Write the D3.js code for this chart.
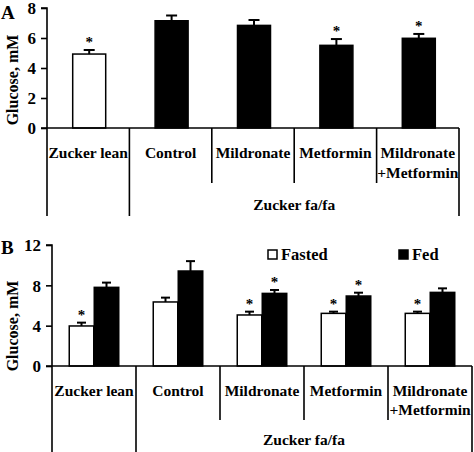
<!DOCTYPE html>
<html><head><meta charset="utf-8">
<script src="https://cdn.jsdelivr.net/npm/d3@7"></script>
<style>
html,body{margin:0;padding:0;background:#fff;}
svg text{font-family:"Liberation Serif","Times New Roman",serif;font-weight:bold;fill:#000;}
</style></head>
<body><svg id="c" width="474" height="452"></svg>
<script>
// Data
const categories = ["Zucker lean","Control","Mildronate","Metformin","Mildronate\n+Metformin"];
const groupLabel = "Zucker fa/fa";
// Panel A
const aValues = [4.93, 7.15, 6.84, 5.51, 5.98];
const aErrors = [0.27, 0.35, 0.36, 0.42, 0.29];
const aSig = [true, false, false, true, true];
const aFills = ["#fff", "#000", "#000", "#000", "#000"];
const aTicks = [0, 2, 4, 6, 8];
// Panel B
const series = ["Fasted","Fed"];
const bFasted = [3.97, 6.35, 5.06, 5.22, 5.22];
const bFastedErr = [0.33, 0.43, 0.33, 0.17, 0.17];
const bFed = [7.8, 9.42, 7.2, 6.94, 7.3];
const bFedErr = [0.47, 0.98, 0.34, 0.33, 0.4];
const bFastedSig = [true, false, true, true, true];
const bFedSig = [false, false, true, true, false];
const bTicks = [0, 4, 8, 12];

const svg = d3.select("#c");

function panel(cfg) {
  const g = svg.append("g");
  const y = d3.scaleLinear().domain(cfg.domain).range([cfg.y0, cfg.y1]);
  const x = d3.scaleBand().domain(categories).range([cfg.x0, cfg.x1]).paddingInner(0).paddingOuter(0);

  // bars
  cfg.series.forEach((s) => {
    s.values.forEach((v, i) => {
      const cx = x(categories[i]) + x.bandwidth()/2 + s.offset;
      const top = y(v);
      g.append("rect").attr("x", cx - cfg.barW/2).attr("y", top)
        .attr("width", cfg.barW).attr("height", y(0) - top)
        .attr("fill", s.fills[i]).attr("stroke", "#000").attr("stroke-width", 1.5);
      const et = y(v + s.errs[i]);
      g.append("line").attr("x1", cx).attr("x2", cx).attr("y1", top).attr("y2", et)
        .attr("stroke", "#000").attr("stroke-width", 2);
      g.append("line").attr("x1", cx - cfg.capW/2).attr("x2", cx + cfg.capW/2).attr("y1", et).attr("y2", et)
        .attr("stroke", "#000").attr("stroke-width", 2);
      if (s.sig[i]) {
        g.append("text").attr("x", cx).attr("y", et - 3).attr("text-anchor", "middle")
          .attr("fill", "#000").style("font-size", "15px").text("*");
      }
    });
  });

  // y axis
  const ax = d3.axisLeft(y).tickValues(cfg.ticks).tickSize(6).tickPadding(5).tickFormat(d3.format("d"));
  const ag = g.append("g").attr("transform", `translate(${cfg.x0},0)`).call(ax)
    .attr("font-family", null).attr("font-size", null);
  ag.select(".domain").attr("stroke", "#000").attr("stroke-width", 1.6).attr("d", `M-6,${cfg.y1}H0V${cfg.y0}`);
  ag.selectAll(".tick line").attr("stroke", "#000").attr("stroke-width", 1.6);
  ag.selectAll(".tick text").style("font-size", "17px").attr("fill", "#000").attr("dy", "0.35em");

  // x baseline
  g.append("line").attr("x1", cfg.x0 - 6).attr("x2", cfg.x1).attr("y1", y(0)).attr("y2", y(0))
    .attr("stroke", "#000").attr("stroke-width", 1.6);

  // separators
  categories.forEach((c, i) => {
    const sx = x(c);
    const full = i <= 1;
    g.append("line").attr("x1", sx).attr("x2", sx).attr("y1", y(0)).attr("y2", full ? cfg.fullBottom : cfg.shortBottom)
      .attr("stroke", "#000").attr("stroke-width", 1.6);
  });
  g.append("line").attr("x1", cfg.x1).attr("x2", cfg.x1).attr("y1", y(0)).attr("y2", cfg.fullBottom)
    .attr("stroke", "#000").attr("stroke-width", 1.6);

  // category labels
  categories.forEach((c) => {
    const lines = c.split("\n");
    const cx = x(c) + x.bandwidth()/2;
    const t = g.append("text").attr("x", cx).attr("y", cfg.labY)
      .attr("text-anchor", "middle").style("font-size", "15.5px");
    lines.forEach((l, li) => {
      t.append("tspan").attr("x", cx).attr("dy", li === 0 ? 0 : cfg.lineH).text(l);
    });
  });
  g.append("text").attr("x", (x(categories[1]) + cfg.x1)/2).attr("y", cfg.groupY)
    .attr("text-anchor", "middle").style("font-size", "15.5px").text(groupLabel);

  // y label
  g.append("text").attr("transform", `translate(${cfg.ylabX},${cfg.ylabY}) rotate(-90)`)
    .attr("text-anchor", "middle").style("font-size", "16px").text("Glucose, mM");
  // panel letter
  g.append("text").attr("x", 1).attr("y", cfg.letterY).style("font-size", "19px").text(cfg.letter);
  return {x, y, g};
}

panel({
  domain: [0, 8], y0: 128, y1: 8, x0: 47, x1: 459, barW: 33, capW: 11,
  series: [{values: aValues, errs: aErrors, sig: aSig, fills: aFills, offset: 1}],
  ticks: aTicks, fullBottom: 216, shortBottom: 183, labY: 158, lineH: 20, groupY: 210,
  ylabX: 18, ylabY: 80, letterY: 19, letter: "A"
});

panel({
  domain: [0, 12], y0: 366, y1: 245, x0: 52, x1: 472, barW: 24.5, capW: 9,
  series: [
    {values: bFasted, errs: bFastedErr, sig: bFastedSig, fills: bFasted.map(() => "#fff"), offset: -12.5},
    {values: bFed, errs: bFedErr, sig: bFedSig, fills: bFed.map(() => "#000"), offset: 12.5}
  ],
  ticks: bTicks, fullBottom: 452, shortBottom: 420, labY: 396, lineH: 19, groupY: 445,
  ylabX: 18, ylabY: 326, letterY: 254, letter: "B"
});

// Legend
const leg = svg.append("g");
const legX = [268, 399];
series.forEach((s, i) => {
  leg.append("rect").attr("x", legX[i]).attr("y", 250).attr("width", 9).attr("height", 9)
    .attr("fill", i === 0 ? "#fff" : "#000").attr("stroke", "#000").attr("stroke-width", 1.5);
  leg.append("text").attr("x", legX[i] + 13).attr("y", 259.5).style("font-size", "16.5px").text(s);
});
</script></body></html>
